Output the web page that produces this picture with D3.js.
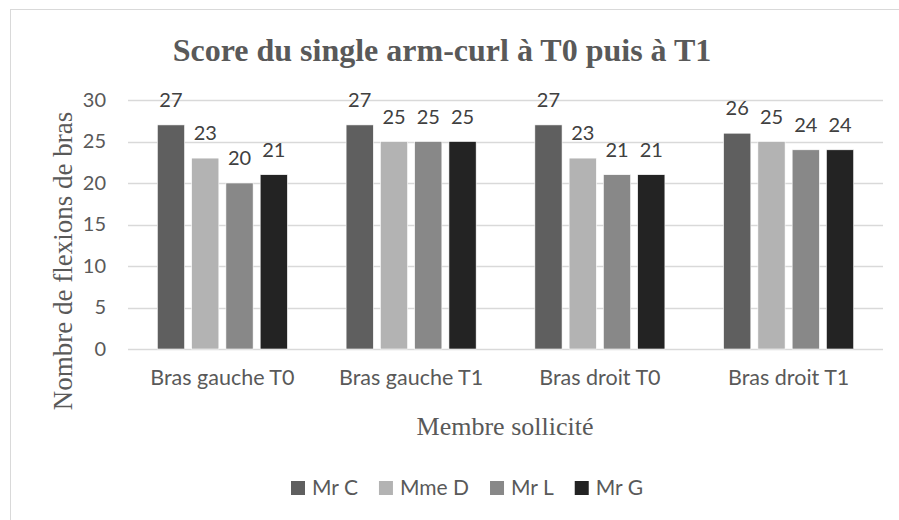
<!DOCTYPE html>
<html>
<head>
<meta charset="utf-8">
<script src="https://cdn.jsdelivr.net/npm/d3@7"></script>
<style>
  body { margin: 0; background: #fff; }
  svg { display: block; }
</style>
</head>
<body>
<svg width="899" height="520"></svg>
<script>
const categories = ["Bras gauche T0", "Bras gauche T1", "Bras droit T0", "Bras droit T1"];
const series = ["Mr C", "Mme D", "Mr L", "Mr G"];
const values = [
  [27, 23, 20, 21],
  [27, 25, 25, 25],
  [27, 23, 21, 21],
  [26, 25, 24, 24]
];
const yTicks = [0, 5, 10, 15, 20, 25, 30];
const colors = ["#5f5f5f", "#b3b3b3", "#888888", "#232323"];

const svg = d3.select("svg");

const sans = "Lato, 'Open Sans', sans-serif";
const serif = "'Liberation Serif', 'Times New Roman', serif";

// cadre du graphique (coupé à droite et en bas)
svg.append("rect")
  .attr("x", 10.5).attr("y", 9.5)
  .attr("width", 1000).attr("height", 1000)
  .attr("fill", "none")
  .attr("stroke", "#d9d9d9");

const x0 = d3.scaleBand()
  .domain(categories)
  .range([128, 883])
  .paddingInner(0.311)
  .paddingOuter(0.1555);

const x1 = d3.scaleBand()
  .domain(series)
  .range([0, x0.bandwidth()])
  .paddingInner(0.206);

const y = d3.scaleLinear()
  .domain([0, 30])
  .range([349, 100]);

const color = d3.scaleOrdinal().domain(series).range(colors);

// grille
svg.append("g")
  .selectAll("line")
  .data(yTicks)
  .enter().append("line")
  .attr("x1", 128).attr("x2", 883)
  .attr("y1", d => Math.round(y(d)) + 0.5)
  .attr("y2", d => Math.round(y(d)) + 0.5)
  .attr("stroke", "#d9d9d9")
  .attr("stroke-width", 1.4);

// axe y
const yAxis = svg.append("g")
  .attr("transform", "translate(128,0)")
  .call(d3.axisLeft(y).tickValues(yTicks).tickSize(0).tickPadding(22));
yAxis.select(".domain").remove();
yAxis.selectAll("text")
  .attr("font-family", sans)
  .attr("font-size", 20)
  .attr("fill", "#595959");

// axe x
const xAxis = svg.append("g")
  .attr("transform", "translate(0,349)")
  .call(d3.axisBottom(x0).tickSize(0).tickPadding(21));
xAxis.select(".domain").remove();
xAxis.selectAll("text")
  .attr("font-family", sans)
  .attr("font-size", 21.5)
  .attr("fill", "#595959");

// barres
const groups = svg.append("g")
  .selectAll("g")
  .data(categories)
  .enter().append("g")
  .attr("transform", d => `translate(${x0(d)},0)`);

groups.selectAll("rect")
  .data((d, i) => values[i].map((v, j) => ({ s: series[j], v: v })))
  .enter().append("rect")
  .attr("x", d => x1(d.s))
  .attr("y", d => y(d.v))
  .attr("width", x1.bandwidth())
  .attr("height", d => y(0) - y(d.v))
  .attr("fill", d => color(d.s))
  .attr("stroke", "#ffffff")
  .attr("stroke-width", 0.6);

groups.selectAll("text")
  .data((d, i) => values[i].map((v, j) => ({ s: series[j], v: v })))
  .enter().append("text")
  .attr("x", d => x1(d.s) + x1.bandwidth() / 2)
  .attr("y", d => y(d.v) - 18)
  .attr("text-anchor", "middle")
  .attr("font-family", sans)
  .attr("font-size", 20)
  .attr("fill", "#404040")
  .text(d => d.v);

// titres
svg.append("text")
  .attr("x", 442).attr("y", 61)
  .attr("text-anchor", "middle")
  .attr("font-family", serif)
  .attr("font-weight", "bold")
  .attr("font-size", 32)
  .attr("fill", "#595959")
  .text("Score du single arm-curl à T0 puis à T1");

svg.append("text")
  .attr("transform", "translate(72,261) rotate(-90)")
  .attr("text-anchor", "middle")
  .attr("font-family", serif)
  .attr("font-size", 27)
  .attr("fill", "#595959")
  .text("Nombre de flexions de bras");

svg.append("text")
  .attr("x", 505).attr("y", 435)
  .attr("text-anchor", "middle")
  .attr("font-family", serif)
  .attr("font-size", 26)
  .attr("fill", "#595959")
  .text("Membre sollicité");

// légende
const legend = svg.append("g").attr("transform", "translate(291,481)");
let lx = 0;
series.forEach(s => {
  const item = legend.append("g").attr("transform", `translate(${lx},0)`);
  item.append("rect")
    .attr("width", 14).attr("height", 14)
    .attr("fill", color(s));
  const t = item.append("text")
    .attr("x", 21).attr("y", 14)
    .attr("font-family", sans)
    .attr("font-size", 21)
    .attr("fill", "#595959")
    .text(s);
  lx += 21 + t.node().getComputedTextLength() + 21;
});
</script>
</body>
</html>
